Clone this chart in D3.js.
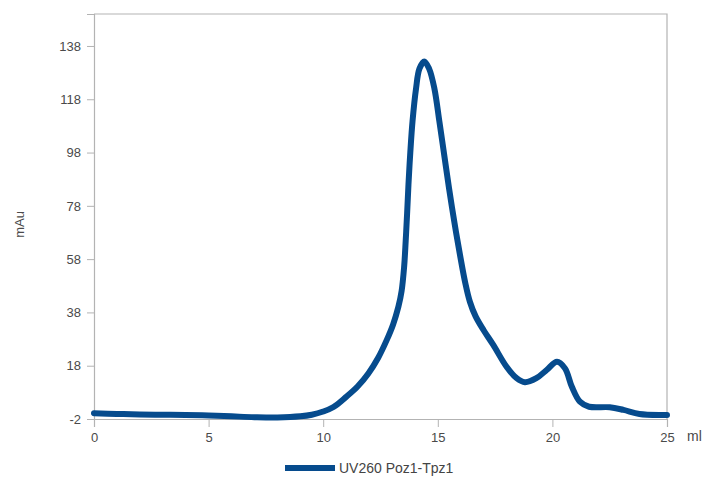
<!DOCTYPE html>
<html>
<head>
<meta charset="utf-8">
<script src="https://cdn.jsdelivr.net/npm/d3@7"></script>
<style>
  body { margin: 0; background: #fff; }
  text { font-family: "Liberation Sans", Arial, sans-serif; }
</style>
</head>
<body>
<div id="chart"></div>
<script>
// elution volume (ml) and absorbance (mAu)
const volume = [0, 1, 2, 3, 4, 5, 6, 7, 8, 9, 9.5, 10, 10.45, 11.0, 11.5, 11.97, 12.4, 12.77,
    13.05, 13.28, 13.42, 13.53, 13.6, 13.66, 13.72, 13.8, 13.9, 14.05, 14.2, 14.41, 14.62, 14.85,
    15.07, 15.28, 15.49, 15.72, 15.97, 16.2, 16.4, 16.65, 17.0, 17.42, 18.0, 18.44, 18.8, 19.3,
    19.75, 20.2, 20.55, 20.85, 21.2, 21.6, 22.5, 23.1, 23.8, 24.8, 25];
const absorbance = [0.2, -0.1, -0.3, -0.4, -0.5, -0.7, -1.0, -1.3, -1.4, -1.0, -0.4, 0.8, 2.5,
    6.3, 10.2, 15.1, 21, 27.6, 33.5, 40.1, 46, 55, 65, 75, 86, 98, 110, 122, 129.5, 132.2, 129.5,
    122.1, 109.6, 97.1, 84.6, 72, 59.5, 49, 42, 36.5, 31.3, 25.8, 17.6, 13.3, 11.8, 13.3, 16.4,
    19.5, 17.0, 10.1, 4.5, 2.6, 2.4, 1.4, -0.1, -0.5, -0.5];
const xTicks = [0, 5, 10, 15, 20, 25];
const yTicks = [-2, 18, 38, 58, 78, 98, 118, 138];
const seriesName = "UV260 Poz1-Tpz1";

const width = 705, height = 477;
const margin = {top: 14, right: 38, bottom: 58, left: 94};
const lineColor = "#064b8d";
const axisColor = "#b3b3b3";

const svg = d3.select("#chart").append("svg")
    .attr("width", width)
    .attr("height", height);

const x = d3.scaleLinear().domain([0, 25]).range([margin.left, width - margin.right]);
const y = d3.scaleLinear().domain([-2, 150]).range([height - margin.bottom, margin.top]);

// frame (top + right)
svg.append("path")
    .attr("d", `M${x(0)},${y(150)}H${x(25)}V${y(-2)}`)
    .attr("fill", "none")
    .attr("stroke", axisColor)
    .attr("stroke-width", 1.2);

const xAxis = svg.append("g")
    .attr("transform", `translate(0,${y(-2)})`)
    .call(d3.axisBottom(x).tickValues(xTicks).tickSize(8).tickPadding(6).tickFormat(d => String(d)));

const yAxis = svg.append("g")
    .attr("transform", `translate(${x(0)},0)`)
    .call(d3.axisLeft(y).tickValues(yTicks).tickSize(7).tickPadding(6).tickFormat(d => String(d)));

[xAxis, yAxis].forEach(g => {
    g.select(".domain").attr("stroke", axisColor).attr("stroke-width", 1.2);
    g.selectAll(".tick line").attr("stroke", axisColor);
    g.selectAll(".tick text")
        .attr("fill", "#4a4a4a")
        .style("font-size", "13px")
        .style("font-family", "'Liberation Sans', Arial, sans-serif");
});

// axis titles
svg.append("text")
    .attr("transform", `translate(24,${(y(-2) + y(150)) / 2 + 8}) rotate(-90)`)
    .attr("text-anchor", "middle")
    .attr("fill", "#4a4a4a")
    .style("font-size", "13px")
    .text("mAu");

svg.append("text")
    .attr("x", 687)
    .attr("y", 441)
    .attr("fill", "#4a4a4a")
    .style("font-size", "14px")
    .text("ml");

// trace
const points = volume.map((v, i) => [v, absorbance[i]]);
const line = d3.line()
    .x(d => x(d[0]))
    .y(d => y(d[1]))
    .curve(d3.curveCatmullRom.alpha(0.5));

svg.append("path")
    .datum(points)
    .attr("d", line)
    .attr("fill", "none")
    .attr("stroke", lineColor)
    .attr("stroke-width", 6)
    .attr("stroke-linejoin", "round")
    .attr("stroke-linecap", "round");

// legend
const legend = svg.append("g").attr("transform", "translate(285,468)");
legend.append("line")
    .attr("x1", 0).attr("x2", 50)
    .attr("stroke", lineColor)
    .attr("stroke-width", 6);
legend.append("text")
    .attr("x", 54)
    .attr("y", 5)
    .attr("fill", "#444")
    .style("font-size", "14px")
    .text(seriesName);
</script>
</body>
</html>
